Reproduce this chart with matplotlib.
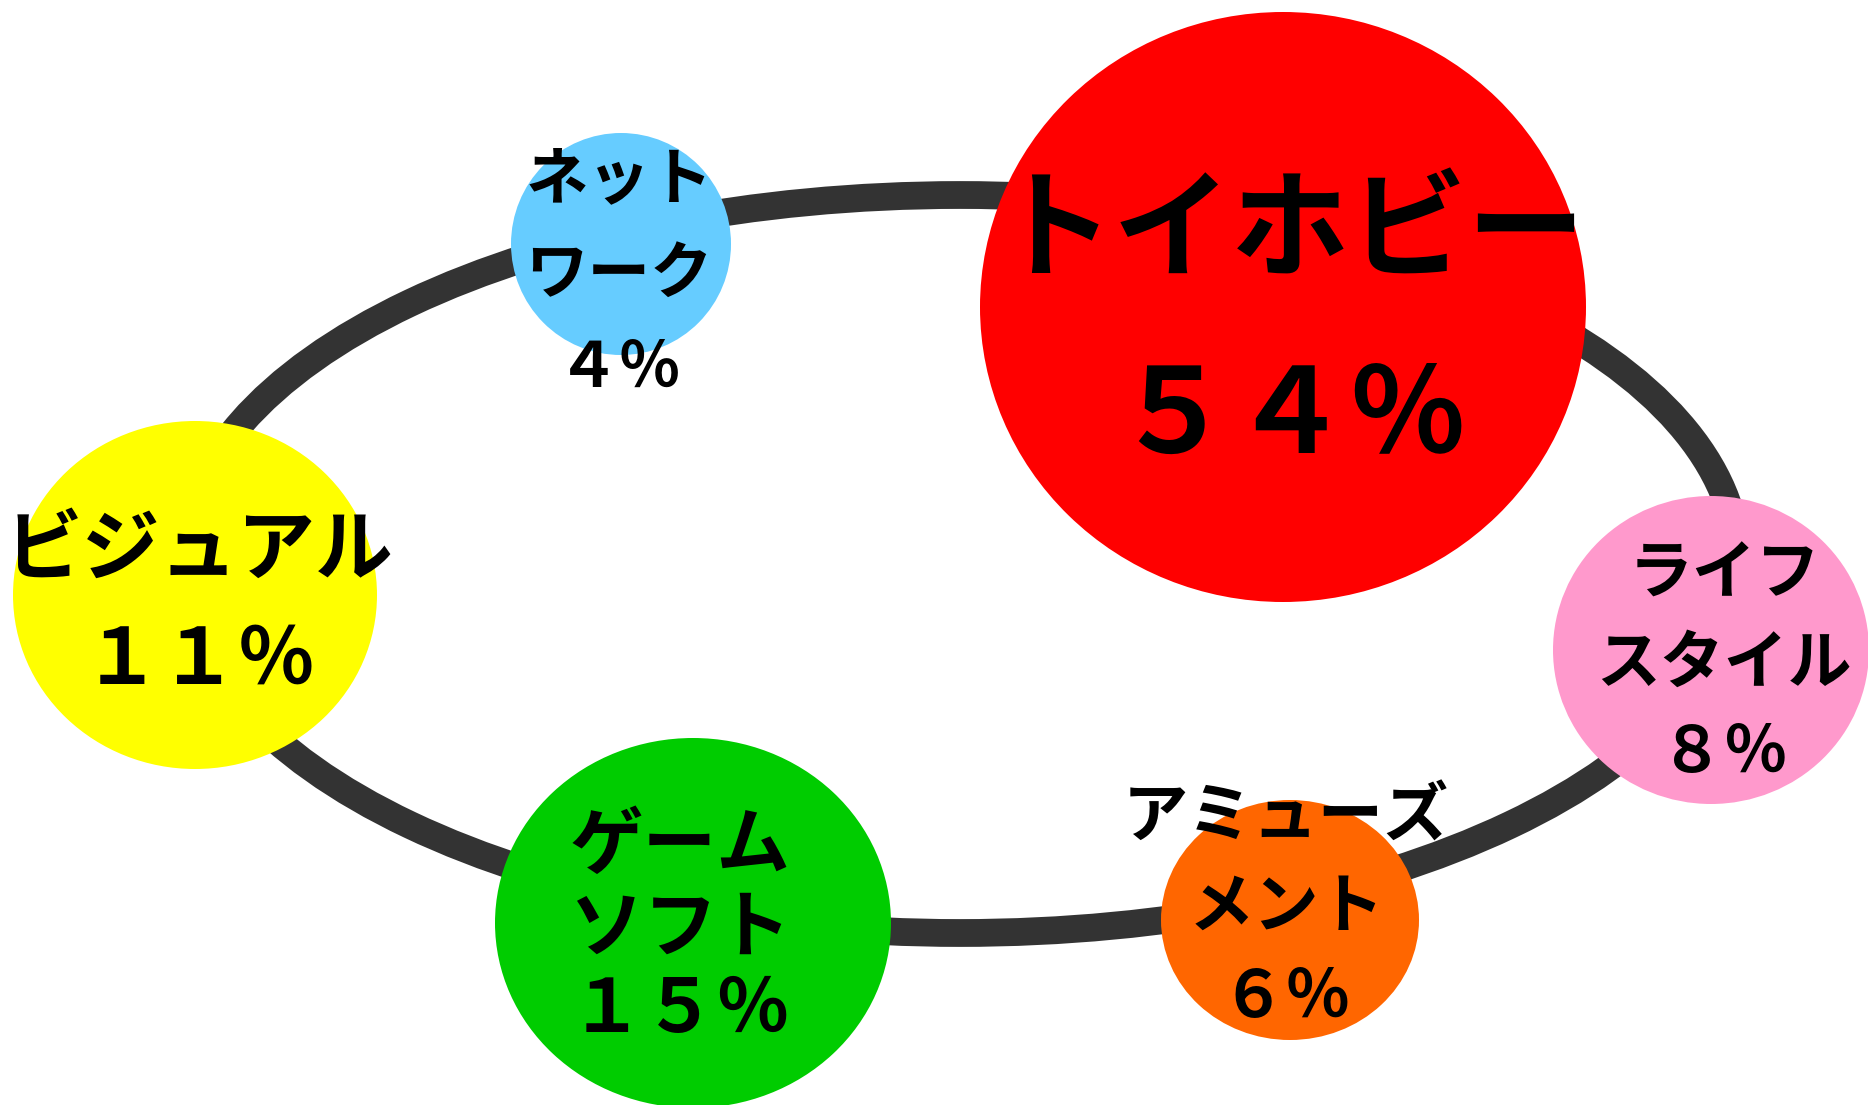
import matplotlib
matplotlib.use('Agg')
import matplotlib.pyplot as plt
from matplotlib.patches import Ellipse

plt.rcParams['font.family'] = ['Noto Sans CJK JP', 'DejaVu Sans']

# data
categories = ['トイホビー', 'ネット\nワーク', 'ビジュアル', 'ゲーム\nソフト', 'アミューズ\nメント', 'ライフ\nスタイル']
shares = [54, 4, 11, 15, 6, 8]
colors = ['#FF0000', '#66CCFF', '#FFFF00', '#00CC00', '#FF6600', '#FF99CC']

# layout in pixels (x, y, half width, half height)
bubbles = [(1283, 307, 303, 295), (621, 244, 110, 111), (195, 595, 182, 174),
           (693, 923, 198, 185), (1290, 920, 129, 120), (1711, 650, 158, 154)]
# text: centre x, first line y, line step, font size (pt)
texts = [(1290, 234, 184, 85), (619, 180, 94, 45), (199, 551, 110, 56),
         (680, 847, 82, 53), (1286, 817, 90, 47), (1724, 575, 89, 46)]

W, H = 1868, 1105
fig = plt.figure(figsize=(W / 100, H / 100), dpi=100)
ax = fig.add_axes([0, 0, 1, 1])
ax.set_xlim(0, W)
ax.set_ylim(H, 0)
ax.axis('off')

# the ring behind the bubbles
ring = Ellipse((960, 564), 2 * 778, 2 * 369, fill=False, edgecolor='#333333', lw=20, zorder=1)
ax.add_patch(ring)

full = str.maketrans('0123456789%', '０１２３４５６７８９％')

for cat, p, c, (bx, by, rx, ry), (tx, ty, step, fs) in zip(categories, shares, colors, bubbles, texts):
    ax.add_patch(Ellipse((bx, by), 2 * rx, 2 * ry, facecolor=c, edgecolor='none', zorder=2))
    lines = cat.split('\n') + [f'{p}%'.translate(full)]
    for i, line in enumerate(lines):
        ax.text(tx, ty + i * step, line, ha='center', va='center', fontsize=fs,
                fontweight='bold', color='black', zorder=3)

fig.savefig('out.png', dpi=100)
